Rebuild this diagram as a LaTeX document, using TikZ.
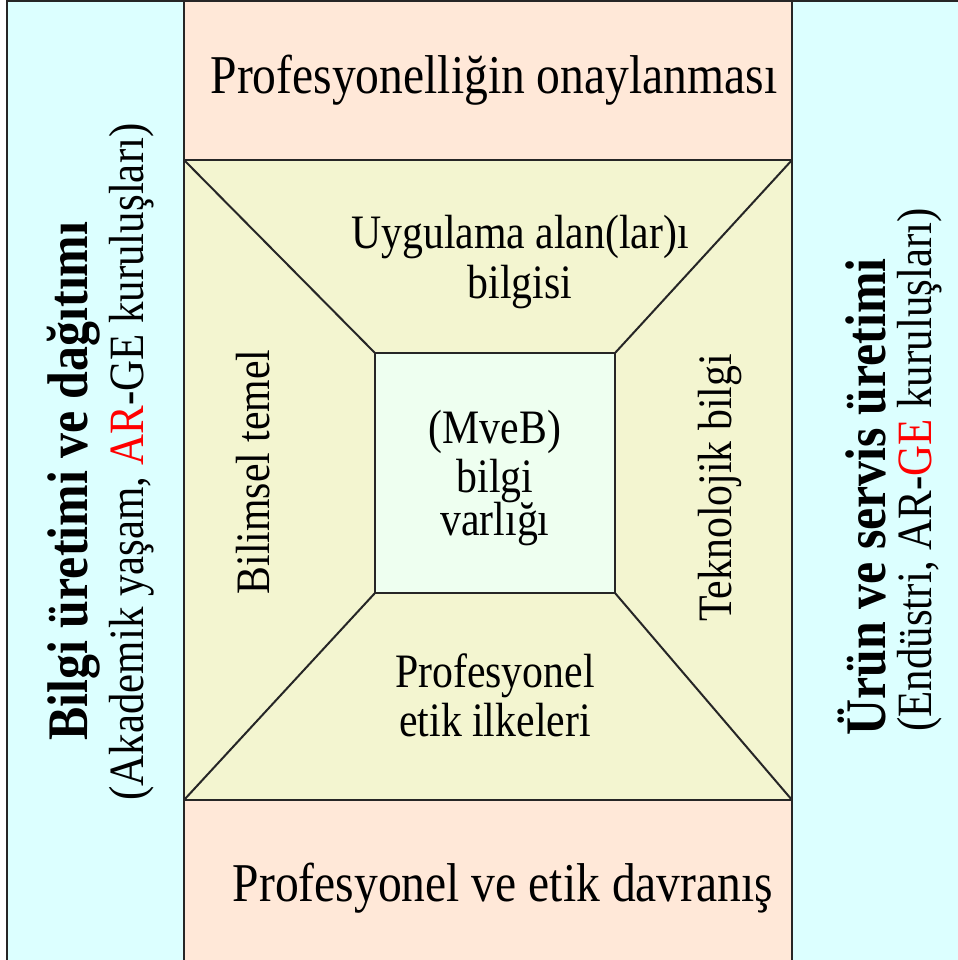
\documentclass[tikz,border=0pt]{standalone}
\usepackage{fontspec}
\setmainfont{Liberation Serif}[FakeStretch=0.87]
\usetikzlibrary{positioning}
\definecolor{panelcyan}{RGB}{220,255,255}
\definecolor{bandpeach}{RGB}{255,232,216}
\definecolor{trapyellow}{RGB}{243,245,208}
\definecolor{coremint}{RGB}{238,255,240}
\tikzset{
	frame/.style={draw=black!85, line width=1.5pt},
	bigtxt/.style={font=\fontsize{41}{48}\selectfont, inner sep=0pt},
	midtxt/.style={font=\fontsize{36}{37}\selectfont, align=center, inner sep=0pt},
	headtxt/.style={font=\fontsize{43}{48}\selectfont\bfseries, rotate=90, inner sep=0pt},
	subtxt/.style={font=\fontsize{37}{44}\selectfont, rotate=90, inner sep=0pt},
}

\begin{document}
\begin{tikzpicture}[x=0.75pt, y=-0.75pt]
	\useasboundingbox (0,0) rectangle (957,960);
	% corners of the frame and the core
	\coordinate (ol) at (184,160);
	\coordinate (or) at (792,160);
	\coordinate (ul) at (184,800);
	\coordinate (ur) at (792,800);
	\coordinate (il) at (375,353);
	\coordinate (ir) at (615,353);
	\coordinate (jl) at (375,593);
	\coordinate (jr) at (615,593);
	
	\fill[panelcyan] (7,1) rectangle (962,965);
	\fill[bandpeach] (184,1) rectangle (792,965);
	\filldraw[frame, fill=trapyellow] (ol) rectangle (ur);
	\filldraw[frame, fill=coremint] (il) rectangle (jr);
	\draw[frame] (ol) -- (il) (or) -- (ir) (ul) -- (jl) (ur) -- (jr);
	\draw[frame] (7,1) rectangle (962,965);
	\draw[frame] (184,1) -- (184,965) (792,1) -- (792,965);
	
	% texts
	\node[bigtxt] (onay) at (494,80) {Profesyonelliğin onaylanması};
	\node[bigtxt] (davr) at (503,888) {Profesyonel ve etik davranış};
	\node[midtxt] (uyg) at (520,262) {Uygulama alan(lar)ı\\bilgisi};
	\node[midtxt] (etik) at (495,695) {Profesyonel\\etik ilkeleri};
	\node[midtxt, rotate=90] (bilim) at (253,472) {Bilimsel temel};
	\node[midtxt, rotate=90] (tekno) at (720,488) {Teknolojik bilgi};
	\node[midtxt] (varlik) at (495,478) {(MveB)\\[0pt]bilgi\\[-5pt]varlığı};
	% side panels
	\node[headtxt] (bilgi) at (74,481) {Bilgi üretimi ve dağıtımı};
	\node[subtxt] (akad) at (132,462) {(Akademik yaşam, \textcolor{red}{AR}-GE kuruluşları)};
	\node[headtxt] (urun) at (862,497) {Ürün ve servis üretimi};
	\node[subtxt] (endu) at (920,470) {(Endüstri, AR-\textcolor{red}{GE} kuruluşları)};
\end{tikzpicture}
\end{document}
